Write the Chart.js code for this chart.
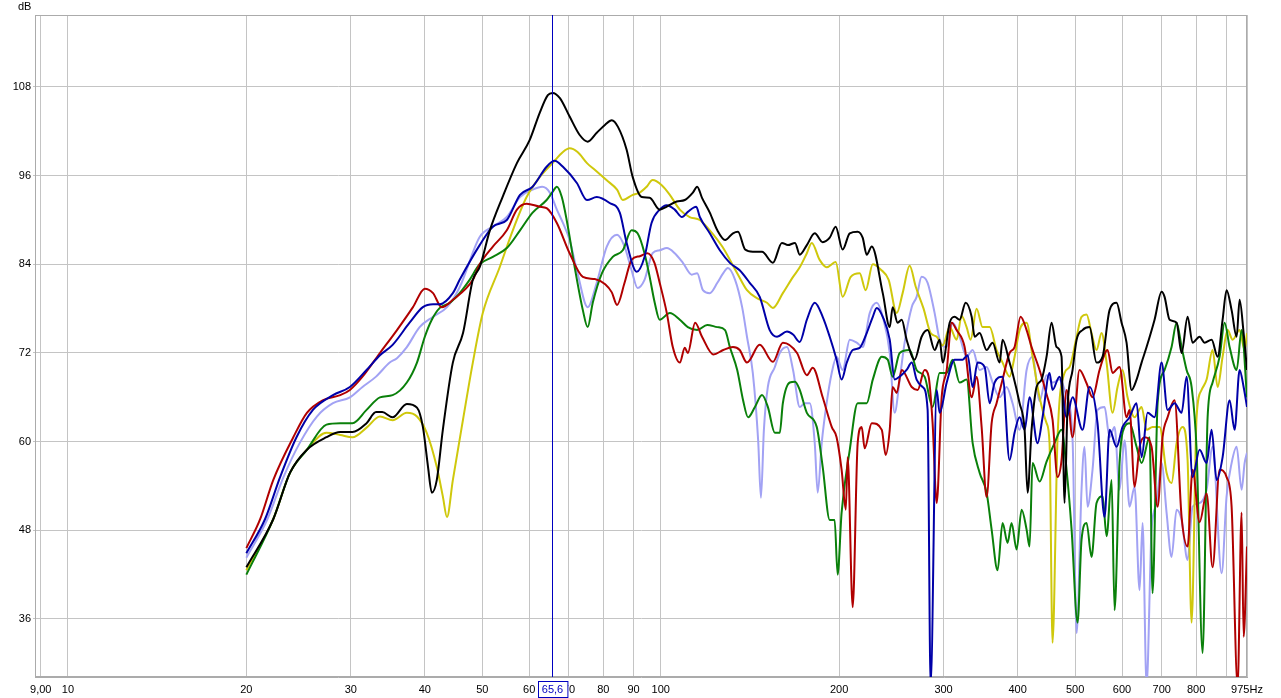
<!DOCTYPE html>
<html>
<head>
<meta charset="utf-8">
<script src="https://cdn.jsdelivr.net/npm/chart.js@4.4.1/dist/chart.umd.min.js"></script>
<style>
  html, body { margin: 0; padding: 0; background: #fff; }
  #wrap { width: 1281px; height: 698px; }
</style>
</head>
<body>
<div id="wrap"><canvas id="graficoRespuesta"></canvas></div>
<script>
// ticks of the two axes
const freqTicks = [9, 10, 20, 30, 40, 50, 60, 70, 80, 90, 100, 200, 300, 400, 500, 600, 700, 800, 900, 975];
const freqTickLabels = ["9,00", "10", "20", "30", "40", "50", "60", "70", "80", "90", "100", "200", "300", "400", "500", "600", "700", "800", "", "975Hz"];
const dbTicks = [36, 48, 60, 72, 84, 96, 108];
const cursorFreq = 65.6;
const cursorLabel = "65,6";

// measured responses, [Hz, dB]
const black = [[20,43.0],[22.2,49.5],[23.7,55.8],[25.3,58.9],[27.3,60.6],[28.8,61.3],[30.2,61.3],[31.9,62.5],[33.1,64.0],[33.9,64.0],[35.3,63.3],[37.3,65.1],[38.8,64.6],[39.7,62.0],[40.5,56.6],[41.1,53.1],[41.9,54.8],[42.9,61.6],[44.6,70.7],[46.4,74.7],[48.2,81.9],[49.5,83.6],[51.5,88.6],[54.1,93.1],[57.2,97.7],[60.1,100.8],[62.5,104.5],[64.5,106.9],[65.7,107.2],[67.6,106.5],[70.2,104.0],[73.0,101.5],[75.3,100.6],[78.0,101.8],[80.6,102.9],[82.7,103.5],[84.7,102.6],[87.6,99.5],[89.7,95.8],[92.9,93.1],[95.8,93.0],[99.6,91.4],[102.4,91.8],[106.4,92.5],[109.8,92.7],[113.3,93.7],[115.2,94.5],[117.4,93.0],[121.0,91.0],[124.6,88.6],[128.4,87.3],[132.4,88.2],[135.0,88.4],[138.8,86.0],[143.0,85.7],[148.2,85.7],[154.6,84.2],[160.1,86.9],[163.9,86.6],[168.5,86.9],[171.6,85.3],[176.4,86.6],[181.9,88.2],[187.6,87.0],[192.8,87.6],[197.3,89.1],[202.7,86.0],[208.4,88.2],[214.9,88.4],[219.1,87.6],[222.6,85.3],[227.0,86.4],[236.9,80.1],[243.4,75.5],[246.2,78.2],[251.0,76.1],[255.0,76.5],[259.9,73.8],[268.1,71.1],[275.5,74.2],[282.0,75.1],[289.8,72.4],[295.5,73.8],[299.0,70.7],[307.2,76.1],[313.2,76.9],[319.3,76.5],[326.9,78.8],[334.6,76.9],[338.5,74.2],[345.1,74.7],[354.6,72.4],[363.0,73.4],[373.0,70.7],[377.3,73.8],[387.7,70.7],[392.2,69.3],[403.1,65.2],[411.0,61.6],[415.8,53.1],[422.3,61.6],[430.5,67.4],[439.0,68.4],[447.6,71.5],[456.4,76.1],[465.3,72.8],[474.4,71.5],[480.0,51.7],[485.6,64.7],[495.2,69.7],[503.0,73.8],[514.7,75.1],[528.9,75.5],[543.5,70.7],[556.4,71.5],[571.7,77.8],[587.4,78.8],[599.0,76.1],[610.7,73.4],[622.7,67.0],[634.9,68.4],[647.4,70.7],[660.1,72.8],[680.9,76.5],[699.7,80.3],[707.9,79.6],[721.8,76.5],[741.7,76.1],[756.3,72.0],[774.1,76.9],[789.2,73.4],[811.0,74.2],[826.9,73.4],[849.8,73.8],[869.9,71.5],[886.9,76.5],[900.7,80.5],[918.4,77.8],[936.5,74.2],[947.4,79.2],[962.3,74.7],[975,69.7]];

const yellow = [[20,42.6],[22.2,49.5],[23.7,55.8],[25.3,58.9],[27.3,61.2],[28.8,60.9],[30.2,60.6],[31.9,61.9],[33.6,63.4],[35.3,62.9],[37.3,63.9],[38.8,63.4],[40.3,61.2],[41.9,56.6],[42.9,52.6],[43.6,49.8],[44.6,54.8],[46.4,63.0],[48.2,70.7],[50.1,77.4],[53.5,83.6],[56.3,88.6],[59.4,93.1],[62.5,95.8],[65.7,97.7],[68.4,99.2],[70.2,99.7],[72.4,99.2],[75.1,97.7],[77.4,96.8],[81.0,95.4],[84.4,94.1],[86.3,92.7],[89.7,93.4],[92.2,93.7],[94.7,94.5],[96.9,95.4],[100.4,94.7],[103.6,93.4],[107.7,91.4],[111.9,90.4],[116.4,90.0],[121.0,88.6],[127.0,86.4],[134.6,82.8],[139.8,80.5],[145.5,79.4],[151.1,78.8],[154.6,78.1],[160.7,80.1],[167.2,82.3],[171.6,83.6],[176.4,85.5],[179.8,86.9],[185.4,84.6],[190.5,83.6],[197.3,84.3],[202.7,79.6],[209.2,82.3],[216.6,82.8],[221.7,80.5],[227.9,84.0],[235.0,83.3],[242.4,81.9],[250.1,77.4],[255.9,80.1],[263.0,83.8],[269.2,81.0],[277.6,78.0],[285.3,74.7],[292.1,74.2],[299.0,73.0],[307.2,75.5],[315.6,73.8],[321.8,77.0],[328.1,75.5],[333.3,73.8],[341.1,78.0],[349.1,75.5],[358.8,75.5],[368.6,72.4],[377.3,70.7],[387.7,68.8],[395.3,71.5],[403.1,75.1],[414.2,76.1],[423.9,71.5],[435.6,66.0],[447.6,62.5],[452.8,59.8],[458.1,32.8],[467.1,60.5],[480.0,69.3],[489.4,70.1],[503.0,74.2],[512.7,76.9],[522.8,77.2],[533.0,74.7],[543.5,72.4],[554.2,74.7],[565.1,70.7],[578.4,63.9],[589.7,67.4],[601.3,69.7],[613.1,66.0],[630.0,63.3],[647.4,64.7],[660.1,61.6],[675.6,62.0],[694.3,62.0],[713.4,55.8],[727.4,54.4],[741.7,59.8],[759.2,62.0],[774.1,57.5],[786.2,35.5],[801.6,63.3],[817.3,67.0],[833.4,68.4],[853.0,72.4],[869.9,67.4],[886.9,71.5],[904.2,75.1],[922.0,73.8],[947.4,75.1],[966.0,72.4],[975,74.7]];

const blue = [[20,44.9],[21.5,49.5],[22.8,55.2],[24.3,60.6],[25.9,64.3],[28.0,66.3],[29.9,67.4],[31.9,69.7],[33.6,71.7],[35.3,73.1],[37.7,76.1],[39.7,78.2],[41.3,78.6],[42.4,78.6],[44.6,80.1],[45.8,81.9],[49.5,86.6],[52.1,89.1],[55.0,90.0],[57.9,93.4],[60.8,94.5],[64.2,97.2],[66.2,98.0],[68.4,97.2],[72.2,95.0],[75.1,92.7],[78.0,93.1],[82.0,92.3],[85.3,91.0],[87.6,86.9],[91.1,83.0],[93.9,85.0],[96.5,89.6],[99.6,91.4],[102.4,92.0],[105.6,91.4],[108.6,90.4],[111.1,91.1],[114.8,91.8],[116.4,90.4],[121.0,88.2],[125.8,85.9],[130.8,84.2],[135.9,83.2],[141.3,81.5],[146.9,79.6],[152.7,75.1],[157.1,74.2],[163.3,74.9],[167.2,74.5],[171.6,73.5],[176.4,76.5],[181.9,78.8],[187.6,76.9],[192.8,74.2],[198.0,71.1],[201.9,68.4],[206.0,70.7],[210.8,72.4],[216.6,72.7],[222.6,74.7],[227.9,76.9],[231.4,78.1],[236.9,76.9],[243.4,73.8],[248.1,68.4],[253.0,68.8],[259.9,69.7],[265.1,70.7],[270.2,68.4],[276.6,67.4],[282.0,64.3],[285.3,27.0],[292.1,67.0],[295.5,63.9],[303.7,68.0],[313.2,71.1],[323.1,71.1],[329.4,71.7],[335.9,67.4],[342.4,70.7],[351.9,70.1],[358.8,65.2],[365.8,68.0],[377.3,68.8],[387.7,57.5],[395.3,61.2],[403.1,63.3],[411.0,61.6],[419.0,66.0],[432.2,59.8],[440.7,63.3],[452.8,69.3],[458.1,67.0],[470.7,68.8],[483.8,63.3],[495.2,66.0],[514.7,61.6],[528.9,67.4],[545.6,62.5],[560.7,49.8],[571.7,61.6],[587.4,59.3],[601.3,62.0],[617.9,63.3],[634.9,65.2],[647.4,57.9],[662.7,63.9],[680.9,63.3],[699.7,70.7],[716.2,64.3],[735.9,65.2],[756.3,63.9],[771.1,68.8],[789.2,55.2],[811.0,58.9],[833.4,57.1],[849.8,61.6],[866.5,54.8],[886.9,57.9],[911.3,65.6],[929.2,61.6],[947.4,69.7],[962.3,67.4],[975,64.7]];

const lavender = [[20,44.3],[21.7,49.5],[23.1,55.2],[24.6,59.8],[26.3,63.4],[28.0,65.2],[29.9,66.0],[31.4,67.4],[33.1,68.8],[34.9,70.7],[35.9,71.3],[37.3,72.8],[39.2,75.5],[41.3,76.9],[43.6,78.2],[45.8,80.9],[49.5,87.7],[52.1,89.1],[55.0,90.4],[57.9,93.1],[60.8,94.1],[63.1,94.5],[65.0,93.7],[66.8,91.4],[68.4,89.6],[70.2,87.3],[72.4,82.8],[75.3,78.2],[78.0,81.5],[81.1,86.4],[84.4,88.0],[86.9,86.4],[89.3,83.2],[91.4,80.8],[93.9,81.9],[96.9,85.5],[99.6,85.9],[102.4,86.2],[105.6,85.5],[109.0,84.2],[112.8,82.6],[115.2,82.8],[117.8,80.5],[121.0,80.1],[124.6,81.5],[127.5,82.8],[129.8,83.5],[133.5,81.9],[137.2,78.2],[139.8,74.2],[143.0,69.3],[146.0,60.2],[147.6,52.4],[149.3,61.6],[151.6,67.4],[155.8,70.1],[158.8,72.0],[163.3,72.8],[167.2,69.7],[171.6,64.7],[175.0,65.2],[178.4,65.2],[181.9,59.8],[184.0,53.1],[186.9,59.8],[190.5,65.2],[194.3,69.3],[198.0,71.5],[202.7,69.7],[208.4,73.8],[214.1,73.4],[219.1,72.8],[225.2,77.4],[231.4,78.8],[236.9,76.9],[243.4,72.0],[248.1,63.9],[253.0,68.4],[257.9,73.4],[265.1,78.2],[270.2,79.6],[275.5,82.3],[282.0,81.5],[289.8,77.4],[295.5,73.8],[303.7,72.8],[310.8,76.1],[319.3,74.2],[328.1,71.5],[335.9,72.4],[345.1,69.7],[354.6,70.1],[363.0,68.0],[373.0,66.0],[383.2,67.4],[392.2,65.2],[403.1,61.6],[414.2,69.7],[423.9,71.5],[435.6,65.5],[447.6,69.0],[458.1,68.0],[470.7,68.4],[483.8,66.0],[495.2,60.2],[503.0,34.1],[512.7,53.5],[518.7,59.3],[524.8,51.2],[535.1,56.2],[545.6,64.3],[560.7,64.7],[571.7,60.6],[582.9,62.0],[594.3,53.5],[606.0,60.2],[617.9,51.2],[630.0,53.9],[642.4,39.9],[649.9,49.0],[660.1,27.0],[673.0,48.1],[686.3,51.7],[699.7,57.1],[713.4,50.4],[727.4,44.4],[741.7,50.8],[756.3,49.4],[774.1,44.0],[789.2,51.2],[811.0,51.7],[833.4,53.5],[853.0,59.3],[883.5,42.2],[900.7,52.6],[918.4,57.1],[936.5,59.3],[954.8,53.5],[966.0,57.1],[975,58.5]];

const green = [[20,42.0],[22.2,49.5],[23.7,55.8],[25.3,58.9],[27.3,62.3],[28.8,62.5],[30.2,62.5],[31.9,64.3],[33.6,66.0],[35.3,66.3],[37.3,68.0],[38.8,70.7],[40.0,74.2],[41.1,76.5],[42.4,78.1],[44.1,78.8],[45.8,80.1],[47.6,81.9],[49.5,84.0],[52.1,85.0],[55.0,86.2],[57.9,88.6],[60.8,91.0],[64.2,92.7],[65.7,93.8],[66.8,94.5],[68.1,93.1],[69.4,90.0],[71.6,83.6],[73.9,77.8],[75.3,75.5],[76.8,78.8],[79.6,82.8],[83.0,85.0],[86.3,85.9],[89.3,88.6],[91.4,88.2],[93.9,85.5],[95.8,82.3],[97.7,78.8],[99.6,76.5],[103.6,77.4],[107.7,76.5],[111.1,75.5],[115.2,75.1],[119.8,75.8],[124.6,75.5],[128.4,75.1],[130.8,72.8],[134.6,69.7],[137.7,65.6],[140.4,63.3],[144.2,64.7],[148.2,66.3],[151.6,64.7],[155.8,61.2],[158.8,61.2],[160.7,65.2],[165.1,68.0],[168.5,68.1],[171.6,67.0],[176.4,63.9],[183.3,62.0],[187.6,56.6],[192.8,49.4],[196.5,49.4],[198.8,42.0],[201.9,50.4],[208.4,58.9],[214.9,65.2],[222.6,65.2],[227.9,68.4],[236.0,71.5],[241.5,71.1],[246.2,68.8],[253.0,72.0],[263.0,72.4],[270.2,69.7],[278.7,68.8],[287.5,64.7],[295.5,69.3],[303.7,69.3],[310.8,71.1],[319.3,68.0],[328.1,68.4],[335.9,59.8],[345.1,55.8],[354.6,53.1],[361.6,48.1],[370.0,42.6],[377.3,49.0],[384.7,46.3],[390.7,49.0],[398.4,45.4],[406.3,50.8],[414.2,48.1],[419.0,45.8],[423.9,57.1],[435.6,54.6],[447.6,57.3],[461.7,59.8],[474.4,61.6],[483.8,56.2],[493.3,48.1],[504.9,35.5],[512.7,46.7],[522.8,49.0],[533.0,44.4],[543.5,51.7],[556.4,52.6],[565.1,47.2],[576.2,54.8],[582.9,37.2],[594.3,57.1],[606.0,62.0],[617.9,62.5],[634.9,59.3],[647.4,57.1],[667.8,60.6],[675.6,39.5],[689.0,65.2],[707.9,69.7],[727.4,72.8],[741.7,76.1],[756.3,72.8],[771.1,69.7],[786.2,67.4],[801.6,58.9],[820.5,31.4],[836.7,63.3],[853.0,68.0],[876.6,71.5],[893.8,76.1],[911.3,72.8],[936.5,69.7],[954.8,75.1],[975,66.0]];

const red = [[20,45.6],[21.1,49.5],[22.2,54.8],[24.0,60.6],[25.3,63.9],[26.9,65.6],[28.8,66.3],[29.9,67.0],[31.4,68.8],[33.6,72.0],[35.9,75.1],[38.2,78.2],[40.0,80.7],[41.3,80.1],[42.7,78.2],[44.6,79.2],[48.2,81.9],[49.5,84.0],[52.1,86.4],[55.0,88.6],[57.2,91.4],[59.4,92.2],[62.5,91.8],[64.2,91.6],[66.8,89.6],[70.2,85.5],[73.9,82.3],[77.4,82.0],[80.6,81.3],[82.7,80.2],[84.4,78.5],[86.9,81.5],[89.3,84.6],[92.2,85.1],[95.0,85.5],[97.6,84.2],[99.6,81.5],[102.4,77.4],[104.8,72.8],[107.7,70.7],[109.8,72.7],[111.1,72.0],[114.3,76.1],[117.4,74.2],[122.7,71.8],[127.5,72.4],[132.4,72.8],[135.9,72.4],[139.8,70.7],[146.9,73.1],[154.6,70.8],[160.7,73.4],[169.8,72.0],[176.4,69.0],[180.5,70.0],[187.6,66.0],[194.3,62.0],[198.0,60.6],[201.9,56.2],[205.2,50.8],[206.7,57.9],[210.8,37.6],[214.9,59.8],[218.3,62.0],[220.8,59.1],[227.0,62.5],[236.0,61.6],[239.6,58.2],[243.4,61.6],[246.2,67.4],[250.1,66.6],[255.0,69.7],[265.1,67.4],[271.3,67.0],[278.7,69.7],[283.1,68.8],[287.5,62.5],[292.1,51.7],[297.8,66.0],[303.7,69.7],[309.6,76.1],[315.6,75.1],[325.6,72.8],[334.6,66.0],[341.1,68.8],[347.8,62.0],[354.6,52.5],[361.6,62.5],[368.6,65.2],[377.3,68.4],[387.7,72.0],[395.3,72.8],[404.7,76.9],[414.2,75.1],[422.3,72.8],[435.6,69.7],[447.6,66.4],[458.1,63.0],[467.1,55.2],[474.4,57.5],[483.8,67.0],[495.2,60.6],[508.7,69.7],[522.8,67.9],[535.1,66.0],[549.9,69.7],[567.3,72.4],[578.4,69.3],[594.3,70.1],[610.7,63.3],[617.9,64.3],[630.0,53.9],[642.4,59.3],[655.0,60.6],[673.0,59.3],[689.0,51.2],[702.4,60.6],[716.2,63.3],[735.9,65.6],[756.3,49.8],[774.1,45.8],[789.2,56.2],[811.0,49.1],[833.4,53.0],[853.0,43.0],[876.6,56.2],[900.7,55.2],[918.4,51.2],[940.1,27.0],[954.8,50.4],[962.3,33.6],[975,45.8]];

const FONT = { family: '"Liberation Sans", Arial, sans-serif', size: 11 };

const toPoints = (arr) => arr.map((p) => ({ x: p[0], y: p[1] }));

const serie = (data, color) => ({
  data: toPoints(data),
  borderColor: color,
  borderWidth: 2,
  pointRadius: 0,
  fill: false,
  cubicInterpolationMode: "monotone",
});

// frame, cursor and the small labels REW puts around the plot
const marco = {
  id: "marco",
  beforeDatasetsDraw(chart) {
    const { ctx, chartArea: a } = chart;
    ctx.save();
    ctx.strokeStyle = "#ababab";
    ctx.lineWidth = 1;
    ctx.strokeRect(a.left + 0.5, a.top + 0.5, a.right - a.left - 1, a.bottom - a.top - 1);
    ctx.restore();
  },
  afterDatasetsDraw(chart) {
    const { ctx, chartArea: a } = chart;
    const x = Math.round(chart.scales.x.getPixelForValue(cursorFreq)) + 0.5;
    ctx.save();
    ctx.strokeStyle = "#0000c0";
    ctx.lineWidth = 1;
    ctx.beginPath();
    ctx.moveTo(x, a.top);
    ctx.lineTo(x, a.bottom);
    ctx.stroke();
    ctx.restore();
  },
  afterDraw(chart) {
    const { ctx, chartArea: a } = chart;
    const x = Math.round(chart.scales.x.getPixelForValue(cursorFreq)) + 0.5;
    ctx.save();
    ctx.font = "11px " + FONT.family;
    ctx.fillStyle = "#000";
    ctx.textAlign = "left";
    ctx.textBaseline = "middle";
    ctx.fillText("dB", 18, 7);

    // cursor value box under the axis
    const w = ctx.measureText(cursorLabel).width + 8;
    const bx = Math.round(x - w / 2) + 0.5;
    const by = a.bottom + 4.5;
    ctx.fillStyle = "#fff";
    ctx.fillRect(bx, by, w, 16);
    ctx.strokeStyle = "#0000c0";
    ctx.strokeRect(bx, by, w, 16);
    ctx.fillStyle = "#0000c0";
    ctx.textAlign = "center";
    ctx.fillText(cursorLabel, x, by + 8.5);
    ctx.restore();
  },
};

const ctx = document.getElementById("graficoRespuesta").getContext("2d");

new Chart(ctx, {
  type: "line",
  data: {
    datasets: [
      serie(black, "#000000"),
      serie(blue, "#0000a8"),
      serie(red, "#b00000"),
      serie(green, "#0a800a"),
      serie(yellow, "#cfc80c"),
      serie(lavender, "#a2a2f4"),
    ],
  },
  options: {
    responsive: true,
    maintainAspectRatio: false,
    animation: false,
    events: [],
    layout: { padding: { left: 0, top: 15, right: 34, bottom: 0 } },
    plugins: { legend: { display: false }, tooltip: { enabled: false } },
    scales: {
      x: {
        type: "logarithmic",
        min: 8.8,
        max: 975,
        bounds: "data",
        afterBuildTicks: (scale) => {
          scale.ticks = freqTicks.map((v) => ({ value: v }));
        },
        afterFit: (scale) => {
          scale.height = 21;
          scale.paddingLeft = 0;
          scale.paddingRight = 0;
        },
        grid: { color: "#c4c4c4", drawTicks: false },
        border: { color: "#ababab" },
        ticks: {
          autoSkip: false,
          maxRotation: 0,
          padding: 6,
          color: "#000",
          font: FONT,
          callback: (value, index) => freqTickLabels[index],
        },
      },
      y: {
        type: "linear",
        min: 28.15,
        max: 117.74,
        bounds: "data",
        afterBuildTicks: (scale) => {
          scale.ticks = dbTicks.map((v) => ({ value: v }));
        },
        afterFit: (scale) => {
          scale.width = 35;
          scale.paddingTop = 0;
          scale.paddingBottom = 0;
        },
        grid: { color: "#c4c4c4", tickLength: 2 },
        border: { color: "#ababab" },
        ticks: {
          padding: 2,
          color: "#000",
          font: FONT,
          callback: (value) => String(value),
        },
      },
    },
  },
  plugins: [marco],
});
</script>
</body>
</html>
